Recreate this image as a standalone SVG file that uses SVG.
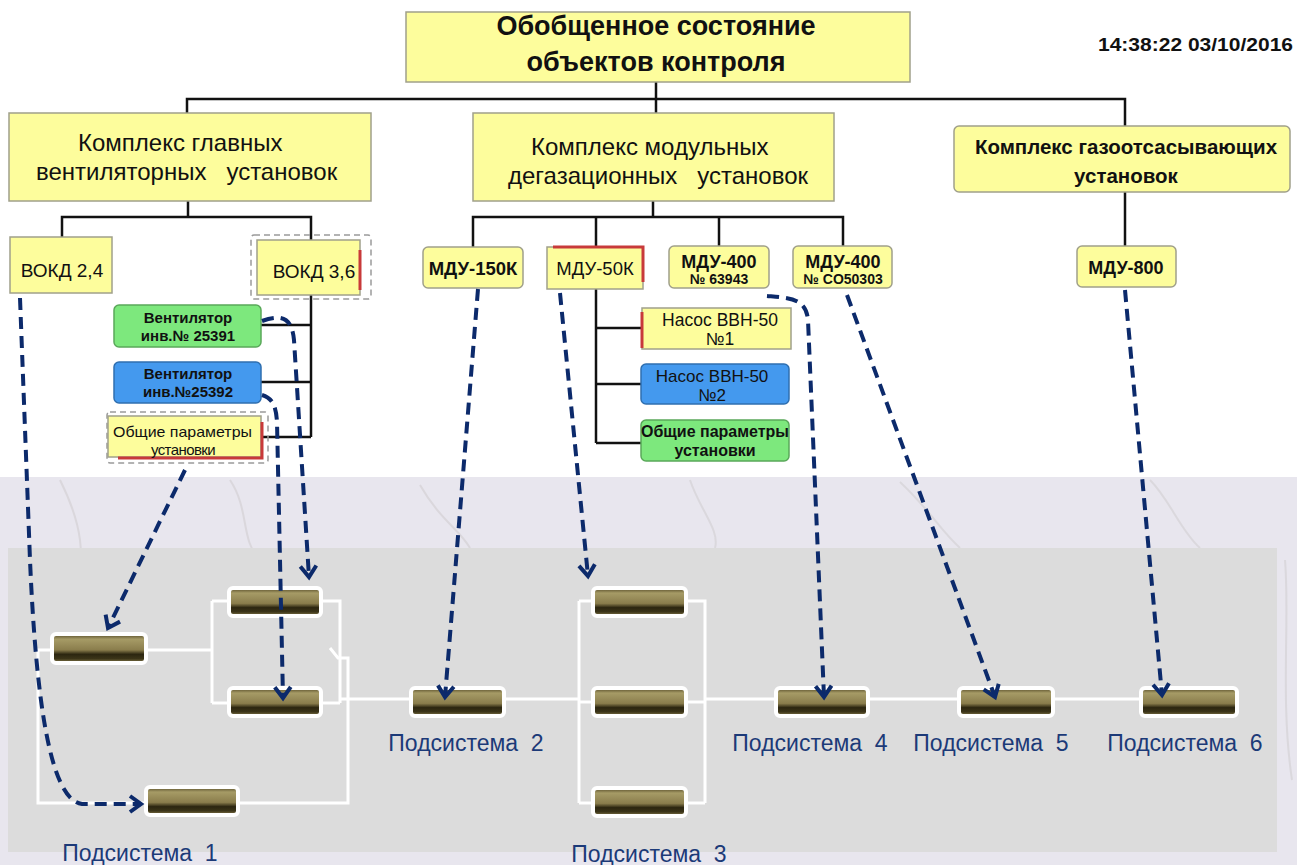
<svg xmlns="http://www.w3.org/2000/svg" width="1297" height="865" viewBox="0 0 1297 865">
  <defs>
    <style>
      .t { font-family: "Liberation Sans", Arial, sans-serif; fill: #111; }
      .b { font-weight: bold; }
      .yl { fill: #fdfd9c; stroke: #a0a08a; stroke-width: 1.5; }
      .gr { fill: #7de87d; stroke: #5aa85a; stroke-width: 1.5; }
      .bl { fill: #4499ee; stroke: #2f6fb0; stroke-width: 1.5; }
      .red { stroke: #c83a3a; stroke-width: 3; fill: none; }
      .sel { fill: none; stroke: #9a9a9a; stroke-width: 1.5; stroke-dasharray: 6 4; }
      .tree { fill: none; stroke: #111; stroke-width: 2.5; }
      .wire { fill: none; stroke: #ffffff; stroke-width: 3; }
      .link { fill: none; stroke: #0c2a6b; stroke-width: 4; stroke-dasharray: 12 7; marker-end: url(#chev); }
      .bar { fill: url(#barGrad); stroke: #ffffff; stroke-width: 4; }
      .sub { font-family: "Liberation Sans", Arial, sans-serif; font-size: 23px; fill: #1c3a78; }
    </style>
    <linearGradient id="barGrad" x1="0" y1="0" x2="0" y2="1">
      <stop offset="0" stop-color="#4d4322"/>
      <stop offset="0.18" stop-color="#a69b66"/>
      <stop offset="0.55" stop-color="#8a7d4c"/>
      <stop offset="0.7" stop-color="#2c2610"/>
      <stop offset="0.85" stop-color="#3b3418"/>
      <stop offset="1" stop-color="#8d8050"/>
    </linearGradient>
    <marker id="chev" markerUnits="userSpaceOnUse" markerWidth="22" markerHeight="22" refX="13" refY="10" orient="auto">
      <path d="M2,2 L13,10 L2,18" fill="none" stroke="#0c2a6b" stroke-width="4" stroke-dasharray="none"/>
    </marker>
  </defs>

  <!-- page background -->
  <rect x="0" y="0" width="1297" height="865" fill="#ffffff"/>
  <rect x="0" y="477" width="1297" height="388" fill="#e8e6ee"/>
  <g opacity="0.12" fill="none" stroke="#7a7060" stroke-width="2">
    <path d="M60,480 C80,520 90,560 70,600"/>
    <path d="M230,480 C250,510 240,540 260,560"/>
    <path d="M420,485 C440,520 460,530 470,548"/>
    <path d="M690,480 C700,510 720,530 715,548"/>
    <path d="M900,482 C930,510 940,530 960,548"/>
    <path d="M1150,480 C1170,500 1180,530 1200,548"/>
    <path d="M1285,560 C1290,620 1280,700 1292,780"/>
  </g>
  <rect x="8" y="548" width="1269" height="304" fill="#dcdcdc"/>

  <!-- hierarchy lines -->
  <g id="connectors">
    <g class="tree">
      <path d="M656,82 V99"/>
      <path d="M187,113 V99 H1125 V126"/>
      <path d="M656,99 V113"/>
      <path d="M188,201 V217"/>
      <path d="M62,237 V217 H311 V240"/>
      <path d="M311,295 V437"/>
      <path d="M261,325 H311"/>
      <path d="M261,382 H311"/>
      <path d="M262,437 H311"/>
      <path d="M653,201 V217"/>
      <path d="M473,247 V217 H843 V246"/>
      <path d="M596,217 V247"/>
      <path d="M719,217 V246"/>
      <path d="M596,289 V443"/>
      <path d="M596,328 H642"/>
      <path d="M596,384 H641"/>
      <path d="M596,443 H641"/>
      <path d="M1125,192 V246"/>
    </g>
    <!-- reliability block wiring -->
    <g class="wire">
      <path d="M52,650 H38 V803 H147"/>
      <path d="M237,803 H348 V658 H338 L330,648"/>
      <path d="M146,650 H212"/>
      <path d="M212,601 V703"/>
      <path d="M212,601 H230"/>
      <path d="M320,601 H340 V703"/>
      <path d="M212,703 H230"/>
      <path d="M320,703 H340"/>
      <path d="M340,699 H412"/>
      <path d="M504,699 H579"/>
      <path d="M579,601 V803"/>
      <path d="M579,601 H594"/>
      <path d="M686,601 H705 V803"/>
      <path d="M579,702 H594"/>
      <path d="M686,702 H705"/>
      <path d="M579,803 H594"/>
      <path d="M686,803 H705"/>
      <path d="M705,699 H776"/>
      <path d="M868,699 H960"/>
      <path d="M1053,699 H1142"/>
    </g>
  </g>

  <!-- top node -->
  <g id="root">
    <rect class="yl" x="406" y="12" width="504" height="70"/>
    <text class="t b" x="656" y="35" font-size="27" text-anchor="middle">Обобщенное состояние</text>
    <text class="t b" x="656" y="71" font-size="27" text-anchor="middle">объектов контроля</text>
  </g>
  <g id="timestamp">
    <text class="t b" x="1098" y="51" font-size="19" textLength="195" lengthAdjust="spacingAndGlyphs">14:38:22 03/10/2016</text>
  </g>

  <!-- complexes -->
  <g id="complex-vent">
    <rect class="yl" x="9" y="113" width="362" height="88"/>
    <text class="t" x="78" y="151" font-size="24" xml:space="preserve">Комплекс главных</text>
    <text class="t" x="36" y="180" font-size="24" xml:space="preserve">вентиляторных   установок</text>
  </g>
  <g id="complex-mdu">
    <rect class="yl" x="473" y="113" width="361" height="88"/>
    <text class="t" x="531" y="155" font-size="24" xml:space="preserve">Комплекс модульных</text>
    <text class="t" x="508" y="184" font-size="24" xml:space="preserve">дегазационных   установок</text>
  </g>
  <g id="complex-gas">
    <rect class="yl" x="954" y="126" width="336" height="66" rx="5"/>
    <text class="t b" x="1126" y="154" font-size="20.5" text-anchor="middle">Комплекс газоотсасывающих</text>
    <text class="t b" x="1126" y="183" font-size="20.5" text-anchor="middle">установок</text>
  </g>

  <!-- ventilation units -->
  <g id="vokd-24">
    <rect class="yl" x="10" y="237" width="102" height="56"/>
    <text class="t" x="62" y="277" font-size="19" text-anchor="middle">ВОКД 2,4</text>
  </g>
  <g id="vokd-36">
    <rect class="sel" x="251" y="235" width="120" height="64" rx="3"/>
    <rect class="yl" x="257" y="240" width="103" height="55"/>
    <path class="red" d="M360,250 V290"/>
    <text class="t" x="314" y="278" font-size="19" text-anchor="middle">ВОКД 3,6</text>
  </g>
  <g id="fan-25391">
    <rect class="gr" x="114" y="305" width="147" height="42" rx="5"/>
    <text class="t b" x="188" y="323" font-size="15" text-anchor="middle">Вентилятор</text>
    <text class="t b" x="188" y="341" font-size="15" text-anchor="middle">инв.№ 25391</text>
  </g>
  <g id="fan-25392">
    <rect class="bl" x="114" y="362" width="147" height="41" rx="5"/>
    <text class="t b" x="188" y="379" font-size="15" text-anchor="middle">Вентилятор</text>
    <text class="t b" x="188" y="397" font-size="15" text-anchor="middle">инв.№25392</text>
  </g>
  <g id="vent-common">
    <rect class="sel" x="107" y="412" width="161" height="51" rx="3"/>
    <rect class="yl" x="108" y="416" width="153" height="41"/>
    <path class="red" d="M262,422 V458 H118"/>
    <text class="t" x="113" y="437" font-size="15" textLength="139" lengthAdjust="spacingAndGlyphs">Общие параметры</text>
    <text class="t" x="183" y="455" font-size="15" text-anchor="middle" letter-spacing="-0.6">установки</text>
  </g>

  <!-- degassing units -->
  <g id="mdu-150k">
    <rect class="yl" x="423" y="247" width="100" height="41" rx="5"/>
    <text class="t b" x="473" y="275" font-size="18.5" text-anchor="middle">МДУ-150К</text>
  </g>
  <g id="mdu-50k">
    <rect class="yl" x="547" y="247" width="96" height="42"/>
    <path class="red" d="M553,247 H643 V282"/>
    <text class="t" x="595" y="275" font-size="18.5" text-anchor="middle">МДУ-50К</text>
  </g>
  <g id="mdu-400-63943">
    <rect class="yl" x="669" y="246" width="100" height="42" rx="5"/>
    <text class="t b" x="719" y="268" font-size="18" text-anchor="middle">МДУ-400</text>
    <text class="t b" x="719" y="284" font-size="14" text-anchor="middle">№ 63943</text>
  </g>
  <g id="mdu-400-co50303">
    <rect class="yl" x="793" y="246" width="99" height="42" rx="5"/>
    <text class="t b" x="843" y="268" font-size="18" text-anchor="middle">МДУ-400</text>
    <text class="t b" x="843" y="284" font-size="14" text-anchor="middle">№ CO50303</text>
  </g>
  <g id="pump-1">
    <rect class="yl" x="642" y="308" width="149" height="41"/>
    <path class="red" d="M642,312 V348"/>
    <text class="t" x="720" y="326" font-size="17.5" text-anchor="middle">Насос ВВН-50</text>
    <text class="t" x="720" y="345" font-size="17.5" text-anchor="middle">№1</text>
  </g>
  <g id="pump-2">
    <rect class="bl" x="641" y="364" width="148" height="40" rx="5"/>
    <text class="t" x="712" y="382" font-size="17" text-anchor="middle">Насос ВВН-50</text>
    <text class="t" x="712" y="401" font-size="17" text-anchor="middle">№2</text>
  </g>
  <g id="mdu-common">
    <rect class="gr" x="641" y="420" width="148" height="41" rx="5"/>
    <text class="t b" x="715" y="437" font-size="16" text-anchor="middle">Общие параметры</text>
    <text class="t b" x="715" y="456" font-size="16" text-anchor="middle">установки</text>
  </g>

  <!-- gas suction unit -->
  <g id="mdu-800">
    <rect class="yl" x="1077" y="246" width="99" height="41" rx="5"/>
    <text class="t b" x="1126" y="274" font-size="18" text-anchor="middle">МДУ-800</text>
  </g>

  <!-- subsystem blocks -->
  <g id="subsystem-1">
    <rect class="bar" x="52" y="634" width="94" height="29" rx="4"/>
    <rect class="bar" x="229" y="588" width="92" height="28" rx="4"/>
    <rect class="bar" x="229" y="688" width="92" height="28" rx="4"/>
    <rect class="bar" x="146" y="787" width="92" height="28" rx="4"/>
    <text class="sub" x="140" y="861" text-anchor="middle" xml:space="preserve">Подсистема  1</text>
  </g>
  <g id="subsystem-2">
    <rect class="bar" x="411" y="688" width="93" height="28" rx="4"/>
    <text class="sub" x="466" y="751" text-anchor="middle" xml:space="preserve">Подсистема  2</text>
  </g>
  <g id="subsystem-3">
    <rect class="bar" x="593" y="588" width="93" height="28" rx="4"/>
    <rect class="bar" x="593" y="688" width="93" height="28" rx="4"/>
    <rect class="bar" x="593" y="788" width="93" height="28" rx="4"/>
    <text class="sub" x="649" y="862" text-anchor="middle" xml:space="preserve">Подсистема  3</text>
  </g>
  <g id="subsystem-4">
    <rect class="bar" x="776" y="688" width="92" height="28" rx="4"/>
    <text class="sub" x="810" y="751" text-anchor="middle" xml:space="preserve">Подсистема  4</text>
  </g>
  <g id="subsystem-5">
    <rect class="bar" x="959" y="688" width="94" height="28" rx="4"/>
    <text class="sub" x="991" y="751" text-anchor="middle" xml:space="preserve">Подсистема  5</text>
  </g>
  <g id="subsystem-6">
    <rect class="bar" x="1141" y="688" width="96" height="28" rx="4"/>
    <text class="sub" x="1185" y="751" text-anchor="middle" xml:space="preserve">Подсистема  6</text>
  </g>

  <!-- mapping links -->
  <g id="links">
    <path class="link" d="M20,298 L30,560 C36,700 50,800 82,804 L141,804"/>
    <path class="link" d="M185,470 L108,628"/>
    <path class="link" d="M262,321 C284,313 292,320 294,340 L309,577"/>
    <path class="link" d="M262,395 C272,398 276,405 277,422 L283,698"/>
    <path class="link" d="M478,289 L445,697"/>
    <path class="link" d="M560,293 L588,576"/>
    <path class="link" d="M767,296 C790,298 806,298 808,320 L824,697"/>
    <path class="link" d="M847,295 L995,697"/>
    <path class="link" d="M1125,290 L1162,695"/>
  </g>
</svg>
